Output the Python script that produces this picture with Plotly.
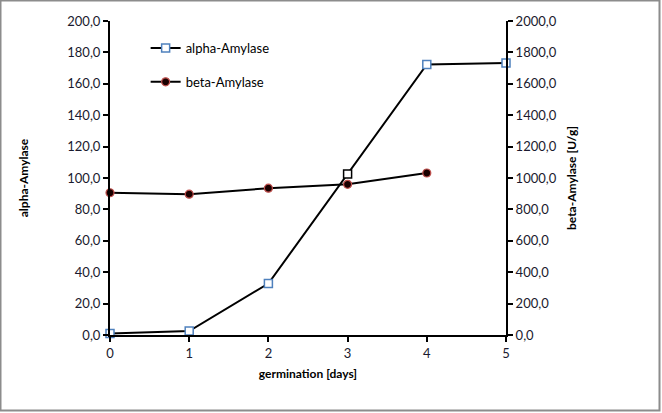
import plotly.graph_objects as go

days = [0, 1, 2, 3, 4, 5]
alpha_amylase = [1.0, 2.5, 32.8, 102.5, 172.3, 173.3]
alpha_edge = ["#4F81BD", "#4F81BD", "#4F81BD", "#000000", "#4F81BD", "#4F81BD"]
beta_days = [0, 1, 2, 3, 4]
beta_amylase = [906, 897, 935, 960, 1032]

FONT = "Lato, Open Sans, sans-serif"

fig = go.Figure()
fig.add_trace(go.Scatter(
    x=days, y=alpha_amylase, name="alpha-Amylase", mode="lines+markers",
    line=dict(color="black", width=2),
    marker=dict(symbol="square", size=8, color="white",
                line=dict(color=alpha_edge, width=1.5)),
    cliponaxis=False, legend="legend", yaxis="y"))
fig.add_trace(go.Scatter(
    x=beta_days, y=beta_amylase, name="beta-Amylase", mode="lines+markers",
    line=dict(color="black", width=2),
    marker=dict(symbol="circle", size=8, color="#1a0000",
                line=dict(color="#C0504D", width=1.2)),
    cliponaxis=False, legend="legend2", yaxis="y2"))

axis_common = dict(showline=True, linecolor="black", linewidth=2, ticks="outside",
                   tickcolor="black", ticklen=5, tickwidth=2, showgrid=False,
                   zeroline=False, tickfont=dict(family=FONT, size=13, color="#1a1a2e"))

fig.update_layout(
    width=662, height=413,
    margin=dict(l=110, r=156, t=21, b=78),
    paper_bgcolor="white", plot_bgcolor="white",
    separators=", ",
    font=dict(family=FONT, size=12, color="black"),
    xaxis=dict(range=[0, 5], dtick=1, **axis_common,
               title=dict(text="<b>germination [days]</b>", standoff=10,
                          font=dict(family=FONT, size=12))),
    yaxis=dict(range=[0, 200], dtick=20, tickformat=".1f", **axis_common,
               title=dict(text="<b>alpha-Amylase</b>", standoff=36,
                          font=dict(family=FONT, size=12))),
    yaxis2=dict(range=[0, 2000], dtick=200, tickformat=".1f", overlaying="y",
                side="right", **axis_common,
                title=dict(text="<b>beta-Amylase [U/g]</b>", standoff=12,
                           font=dict(family=FONT, size=12))),
    legend=dict(x=0.09, y=0.914, xanchor="left", yanchor="middle",
                bgcolor="rgba(0,0,0,0)", font=dict(family=FONT, size=13)),
    legend2=dict(x=0.09, y=0.806, xanchor="left", yanchor="middle",
                 bgcolor="rgba(0,0,0,0)", font=dict(family=FONT, size=13)),
    showlegend=True,
    shapes=[dict(type="rect", xref="paper", yref="paper",
                 x0=-109.5/396, x1=549.5/396, y0=-75.5/314, y1=334.5/314,
                 line=dict(color="#8c8c8c", width=2), layer="below")],
)

fig.write_html("out.html")
